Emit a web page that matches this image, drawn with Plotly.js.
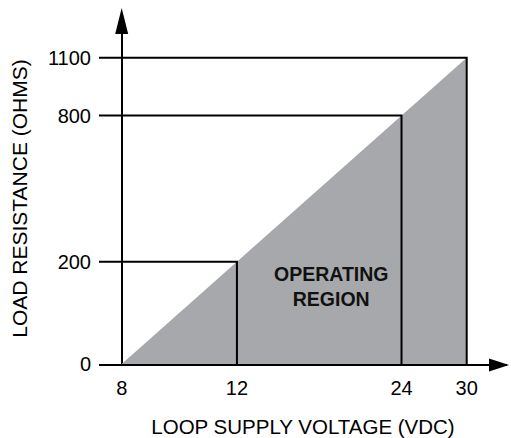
<!DOCTYPE html>
<html>
<head>
<meta charset="utf-8">
<script src="https://cdn.plot.ly/plotly-3.0.1.min.js"></script>
<style>
  html, body { margin: 0; padding: 0; background: #ffffff; }
  #chart { width: 511px; height: 438px; }
</style>
</head>
<body>
<div id="chart"></div>
<script>
// ---- Data ----
const supplyVoltage = [8, 12, 24, 30];            // VDC
const maxLoadResistance = [0, 200, 800, 1100];    // ohms (boundary of the operating region)
const voltageTickLabels = ['8', '12', '24', '30'];
const resistanceTickLabels = ['0', '200', '800', '1100'];
const regionLabel = 'OPERATING<br>REGION';
const xTitleText = 'LOOP SUPPLY VOLTAGE (VDC)';
const yTitleText = 'LOAD RESISTANCE (OHMS)';

// The original drawing is schematic (not to scale): the marked values sit at
// these relative positions along each axis; values in between are interpolated.
const schematicStops = [0, 0.334, 0.811, 1];

function toSchematic(marks, v) {
  for (let i = 0; i < marks.length - 1; i++) {
    if (v <= marks[i + 1]) {
      const t = (v - marks[i]) / (marks[i + 1] - marks[i]);
      return schematicStops[i] + t * (schematicStops[i + 1] - schematicStops[i]);
    }
  }
  return schematicStops[schematicStops.length - 1];
}
const sx = v => toSchematic(supplyVoltage, v);
const sy = r => toSchematic(maxLoadResistance, r);

const FONT = 'Liberation Sans, Arial, Helvetica, sans-serif';
const xRange = [-0.0658, 1.1168];
const yRange = [0, 1.0805];

const n = supplyVoltage.length;

// Operating region: below the line from (Vmin, 0) to (Vmax, Rmax)
const region = {
  type: 'scatter', mode: 'lines',
  x: [sx(supplyVoltage[0]), sx(supplyVoltage[n - 1]), sx(supplyVoltage[n - 1])],
  y: [sy(maxLoadResistance[0]), sy(maxLoadResistance[n - 1]), sy(maxLoadResistance[0])],
  fill: 'toself', fillcolor: '#a7a8ab',
  line: { width: 0, color: '#a7a8ab' },
  hoverinfo: 'skip', showlegend: false
};

// Guide lines: from the resistance scale across to each point, then down to the voltage scale
const gx = [], gy = [];
for (let i = 1; i < n; i++) {
  gx.push(xRange[0], sx(supplyVoltage[i]), sx(supplyVoltage[i]), null);
  gy.push(sy(maxLoadResistance[i]), sy(maxLoadResistance[i]), sy(maxLoadResistance[0]), null);
}
const guides = {
  type: 'scatter', mode: 'lines', x: gx, y: gy,
  line: { color: '#000000', width: 2 },
  connectgaps: false, hoverinfo: 'skip', showlegend: false
};

const layout = {
  width: 511, height: 438,
  margin: { l: 99, r: 4, t: 33, b: 74 },
  paper_bgcolor: '#ffffff', plot_bgcolor: 'rgba(0,0,0,0)',
  font: { family: FONT, color: '#000000', size: 20 },
  showlegend: false,
  xaxis: {
    range: xRange, fixedrange: true,
    tickmode: 'array',
    tickvals: voltageTickLabels.map((_, i) => sx(supplyVoltage[i])),
    ticktext: voltageTickLabels,
    tickfont: { family: FONT, size: 20, color: '#000000' },
    ticklabelstandoff: 5,
    ticks: '', showgrid: false,
    showline: true, linecolor: '#000000', linewidth: 2,
    zeroline: true, zerolinecolor: '#000000', zerolinewidth: 2,
    automargin: false,
    title: { text: xTitleText, font: { family: FONT, size: 20.5, color: '#000000' }, standoff: 22 }
  },
  yaxis: {
    range: yRange, fixedrange: true,
    tickmode: 'array',
    tickvals: resistanceTickLabels.map((_, i) => sy(maxLoadResistance[i])),
    ticktext: resistanceTickLabels,
    tickfont: { family: FONT, size: 20, color: '#000000' },
    ticklabelstandoff: 7,
    ticks: '', showgrid: false, showline: false, zeroline: false,
    automargin: false,
    title: { text: yTitleText, font: { family: FONT, size: 21, color: '#000000' }, standoff: 14 }
  },
  shapes: [
    // arrow head at the end of the voltage axis
    { type: 'path', xref: 'paper', yref: 'paper', xsizemode: 'pixel', ysizemode: 'pixel',
      xanchor: 1, yanchor: 0, path: 'M-18,5.5 L2,-1 L-18,-7.5 Z',
      fillcolor: '#000000', line: { width: 0 } },
    // arrow head at the top of the resistance axis
    { type: 'path', xref: 'x', yref: 'paper', xsizemode: 'pixel', ysizemode: 'pixel',
      xanchor: 0, yanchor: 1, path: 'M-6.5,-1 L0,25 L6.5,-1 Z',
      fillcolor: '#000000', line: { width: 0 } }
  ],
  annotations: [
    { text: regionLabel, xref: 'x', yref: 'y', x: 0.607, y: 0.2536,
      showarrow: false, align: 'center',
      font: { family: FONT, size: 19.5, color: '#111111', weight: 700 } }
  ]
};

Plotly.newPlot('chart', [region, guides], layout, { displayModeBar: false, staticPlot: true });
</script>
</body>
</html>
